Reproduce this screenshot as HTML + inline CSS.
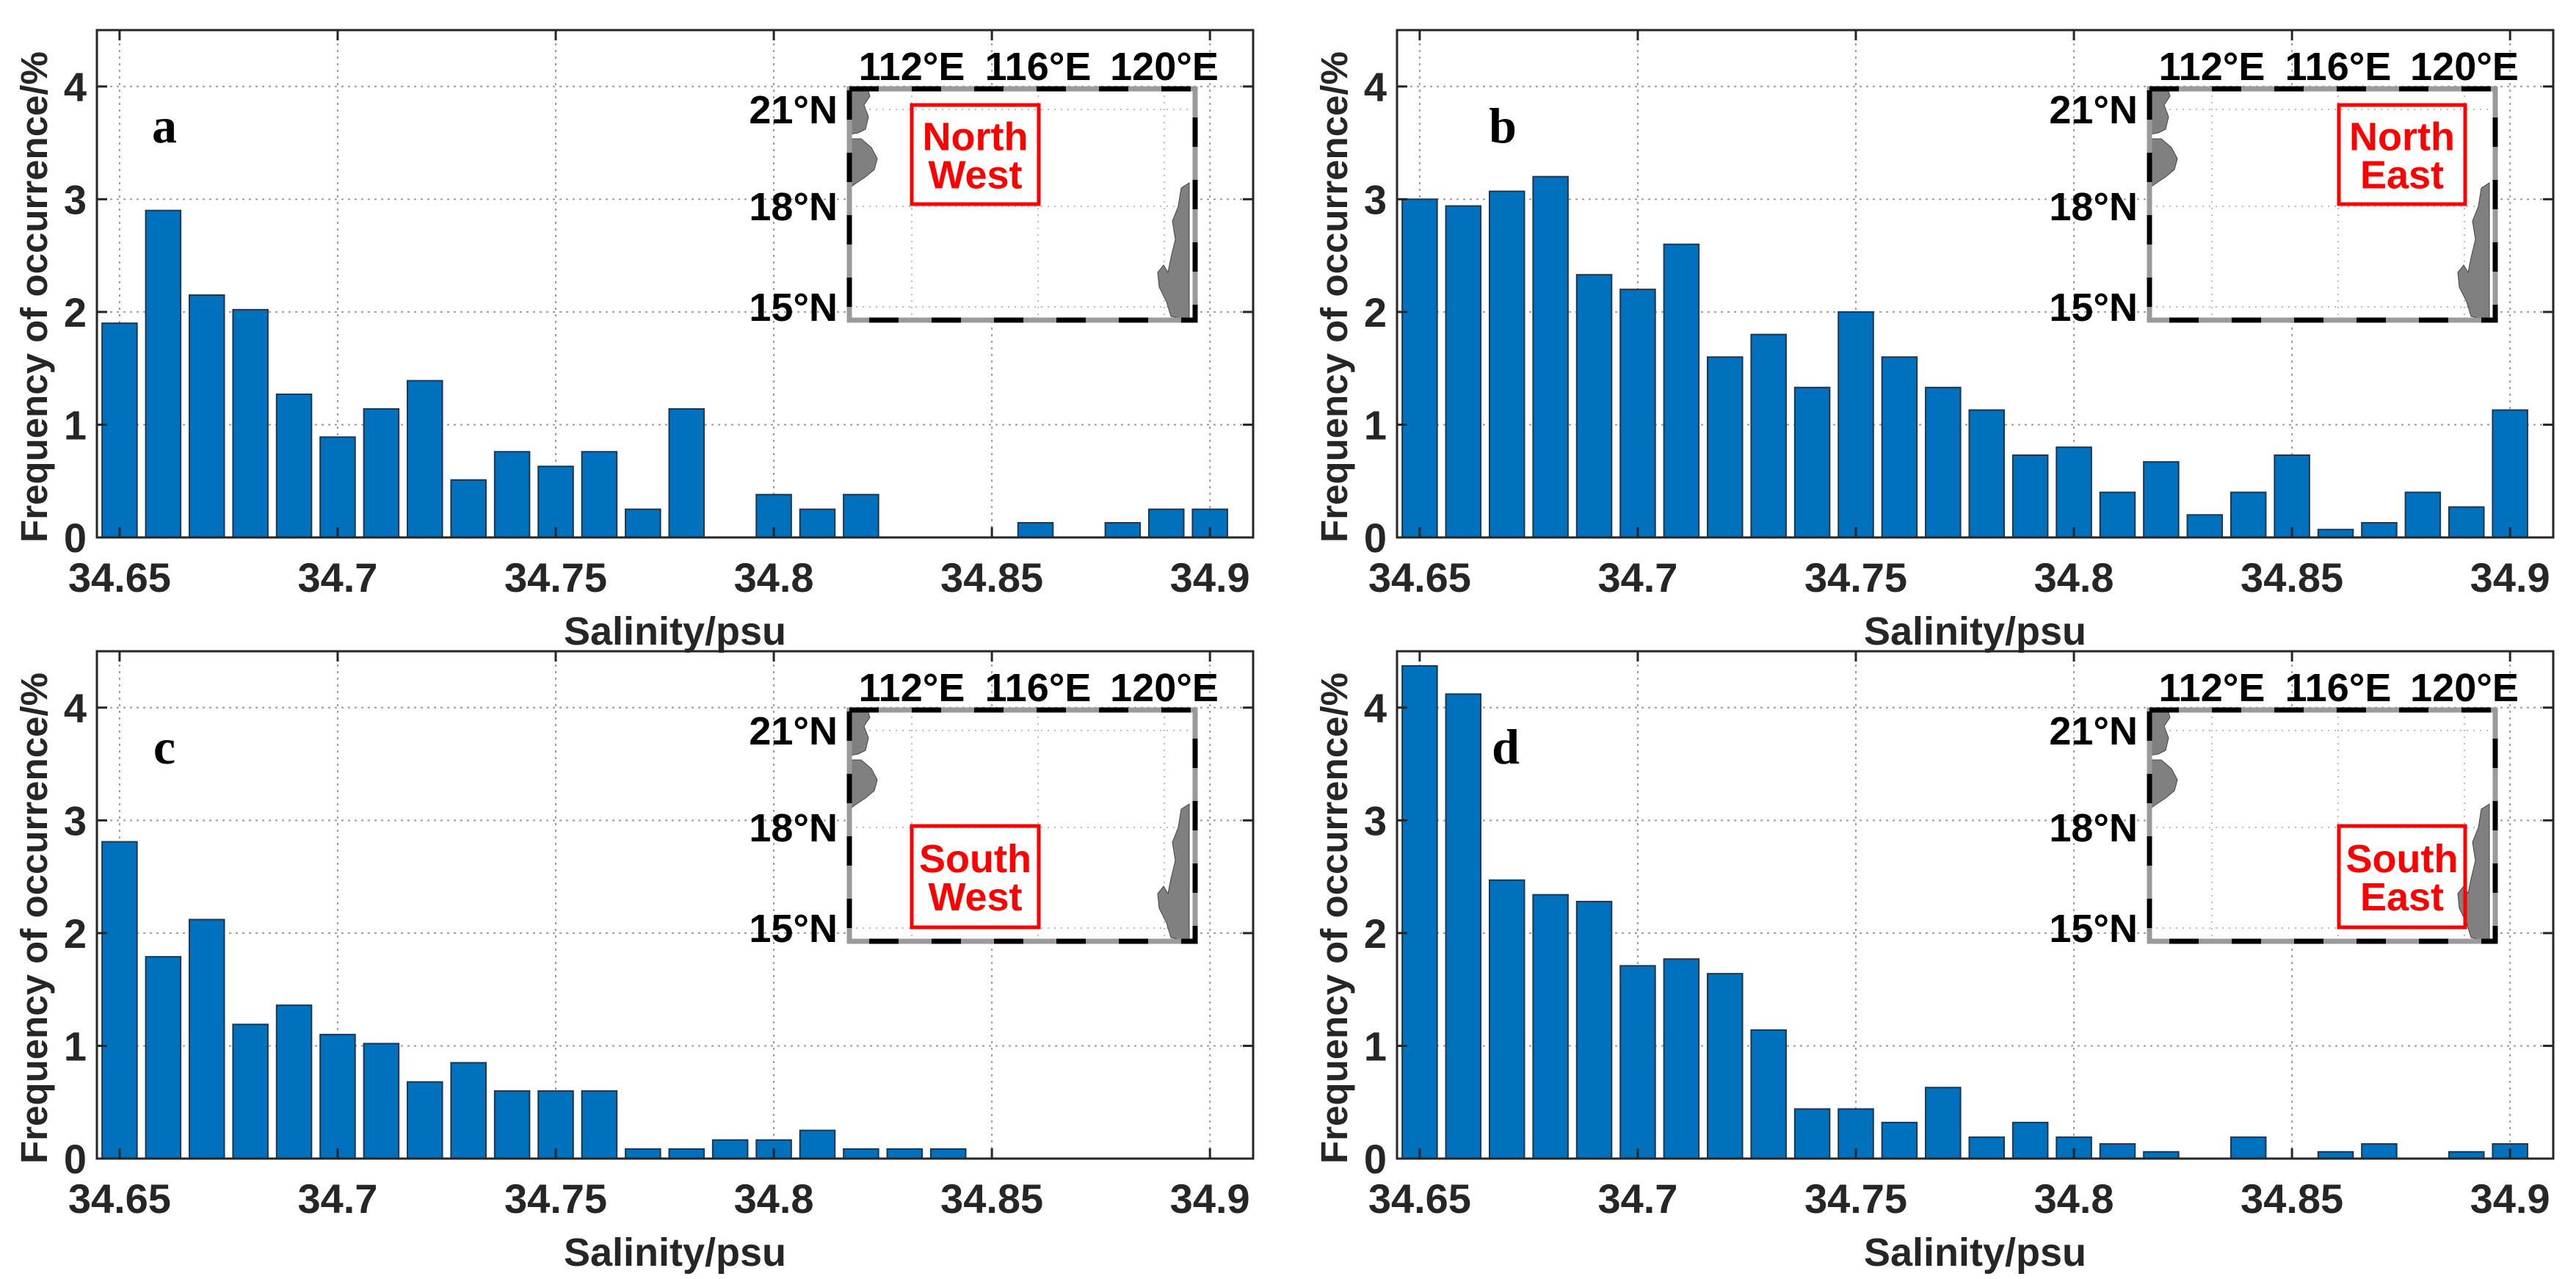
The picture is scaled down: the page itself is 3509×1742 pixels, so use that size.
<!DOCTYPE html>
<html><head><meta charset="utf-8"><style>
html,body{margin:0;padding:0;background:#fff}
svg{display:block}
text{font-family:"Liberation Sans",Arial,sans-serif}
</style></head><body>
<svg id="fig" width="3509" height="1742" viewBox="0 0 3509 1742"></svg>
<script>
const categories=[34.65,34.66,34.67,34.68,34.69,34.70,34.71,34.72,34.73,34.74,34.75,34.76,34.77,34.78,34.79,34.80,34.81,34.82,34.83,34.84,34.85,34.86,34.87,34.88,34.89,34.90];
const valuesA=[1.9,2.9,2.15,2.02,1.27,0.89,1.14,1.39,0.51,0.76,0.63,0.76,0.25,1.14,0,0.38,0.25,0.38,0,0,0,0.13,0,0.13,0.25,0.25];
const valuesB=[3.0,2.94,3.07,3.2,2.33,2.2,2.6,1.6,1.8,1.33,2.0,1.6,1.33,1.13,0.73,0.8,0.4,0.67,0.2,0.4,0.73,0.07,0.13,0.4,0.27,1.13];
const valuesC=[2.81,1.79,2.12,1.19,1.36,1.1,1.02,0.68,0.85,0.6,0.6,0.6,0.085,0.085,0.165,0.165,0.25,0.085,0.085,0.085,0,0,0,0,0,0];
const valuesD=[4.37,4.12,2.47,2.34,2.28,1.71,1.77,1.64,1.14,0.44,0.44,0.32,0.63,0.19,0.32,0.19,0.13,0.06,0,0.19,0,0.06,0.13,0,0.06,0.13];
const xTicks=[34.65,34.7,34.75,34.8,34.85,34.9];
const xTickLabels=["34.65","34.7","34.75","34.8","34.85","34.9"];
const yTicks=[0,1,2,3,4];
const lonLabels=["112°E","116°E","120°E"];
const latLabels=["21°N","18°N","15°N"];

const NS="http://www.w3.org/2000/svg";
const svg=document.getElementById('fig');
function mk(tag,attrs,parent){const e=document.createElementNS(NS,tag);for(const k in attrs)e.setAttribute(k,attrs[k]);(parent||svg).appendChild(e);return e;}

function panel(ox,oy,vals,letter,letterX,regionLines,boxX,boxY,boxW,boxH,key){
  const g=mk('g',{transform:`translate(${ox},${oy})`});
  
  
  const L=132,R=1707,T=41,B=732;
  const xmin=34.6448,xmax=34.9099,ymax=4.5;
  const xs=v=>L+(v-xmin)/(xmax-xmin)*(R-L);
  const ys=v=>B-v/ymax*(B-T);
  xTicks.forEach(t=>{const l=mk('line',{x1:xs(t),x2:xs(t),y1:T,y2:B,stroke:'#9a9a9a','stroke-width':2,'stroke-dasharray':'3,6'},g);});
  yTicks.forEach(t=>{if(t===0)return;const l=mk('line',{x1:L,x2:R,y1:ys(t),y2:ys(t),stroke:'#9a9a9a','stroke-width':2,'stroke-dasharray':'3,6'},g);});
  const bw=(xs(0.01)-xs(0))*0.8;
  vals.forEach((v,i)=>{if(v<=0)return;const x=xs(categories[i]);
    const r=mk('rect',{x:x-bw/2,y:ys(v),width:bw,height:B-ys(v),fill:'#0072BD',stroke:'#1f3550','stroke-width':2},g);
    
    });
  const ax=mk('rect',{x:L,y:T,width:R-L,height:B-T,fill:'none',stroke:'#262626','stroke-width':3},g);
  
  xTicks.forEach((t,i)=>{mk('line',{x1:xs(t),x2:xs(t),y1:B,y2:B-14,stroke:'#262626','stroke-width':3},g);mk('line',{x1:xs(t),x2:xs(t),y1:T,y2:T+14,stroke:'#262626','stroke-width':3},g);
    const tx=mk('text',{x:xs(t),y:806,'text-anchor':'middle','font-size':56,'font-weight':'bold',fill:'#262626'},g);tx.textContent=xTickLabels[i];
    });
  yTicks.forEach(t=>{mk('line',{x1:L,x2:L+14,y1:ys(t),y2:ys(t),stroke:'#262626','stroke-width':3},g);mk('line',{x1:R,x2:R-14,y1:ys(t),y2:ys(t),stroke:'#262626','stroke-width':3},g);
    const tx=mk('text',{x:118,y:ys(t)+20,'text-anchor':'end','font-size':56,'font-weight':'bold',fill:'#262626'},g);tx.textContent=String(t);
    });
  const xl=mk('text',{x:(L+R)/2,y:878,'text-anchor':'middle','font-size':54,'font-weight':'bold',fill:'#262626'},g);xl.textContent='Salinity/psu';
  
  const yl=mk('text',{x:0,y:0,'text-anchor':'middle','font-size':51,'font-weight':'bold',fill:'#262626',transform:`translate(64,${(T+B)/2+18}) rotate(-90)`},g);yl.textContent='Frequency of occurrence/%';
  
  const lt=mk('text',{x:letterX,y:194,'text-anchor':'middle','font-size':68,'font-weight':'bold',fill:'#000',style:'font-family:"Liberation Serif",serif'},g);lt.textContent=letter;
  
  const ix=1157,iy=121,iw=471,ih=315;
  const ig=mk('g',{transform:`translate(${ix},${iy})`},g);
  
  mk('rect',{x:0,y:0,width:iw,height:ih,fill:'#fff'},ig);
  [85,257,429].forEach(x=>mk('line',{x1:x,x2:x,y1:0,y2:ih,stroke:'#bbb','stroke-width':2,'stroke-dasharray':'2,7'},ig));
  [28,160,297].forEach(y=>mk('line',{x1:0,x2:iw,y1:y,y2:y,stroke:'#bbb','stroke-width':2,'stroke-dasharray':'2,7'},ig));
  const land1=mk('path',{d:'M0,0 L25,0 L28,10 L20,22 L26,38 L22,55 L12,60 L0,62 Z M0,68 L16,68 L30,80 L38,95 L34,110 L22,120 L10,128 L0,135 Z',fill:'#808080',stroke:'#444','stroke-width':1},ig);
  
  const land2=mk('path',{d:'M463,128 L452,135 L448,160 L440,180 L444,205 L438,230 L434,250 L428,240 L420,250 L422,270 L432,290 L438,310 L463,315 Z',fill:'#808080',stroke:'#444','stroke-width':1},ig);
  
  mk('rect',{x:0,y:0,width:iw,height:ih,fill:'none',stroke:'#9a9a9a','stroke-width':7},ig);
  mk('rect',{x:0,y:0,width:iw,height:ih,fill:'none',stroke:'#000','stroke-width':7,'stroke-dasharray':'40,45'},ig);
  const rb=mk('rect',{x:boxX,y:boxY,width:boxW,height:boxH,fill:'none',stroke:'#ff0000','stroke-width':5},ig);
  
  regionLines.forEach((s,i)=>{const t=mk('text',{x:boxX+boxW/2,y:boxY+boxH/2-6+i*52,'text-anchor':'middle','font-size':54,'font-weight':'bold',fill:'#ff0000'},ig);t.textContent=s;
    });
  [85,257,429].forEach((x,i)=>{const t=mk('text',{x:x,y:-12,'text-anchor':'middle','font-size':54,'font-weight':'bold',fill:'#000'},ig);t.textContent=lonLabels[i];
    });
  [28,160,297].forEach((y,i)=>{const t=mk('text',{x:-16,y:y+19,'text-anchor':'end','font-size':54,'font-weight':'bold',fill:'#000'},ig);t.textContent=latLabels[i];
    });
}
panel(0,0,valuesA,'a',224,['North','West'],85,22,173,135,'a');
panel(1771,0,valuesB,'b',276,['North','East'],258,22,172,135,'b');
panel(0,846,valuesC,'c',224,['South','West'],85,158,173,138,'c');
panel(1771,846,valuesD,'d',280,['South','East'],258,158,172,138,'d');
</script>
</body></html>
